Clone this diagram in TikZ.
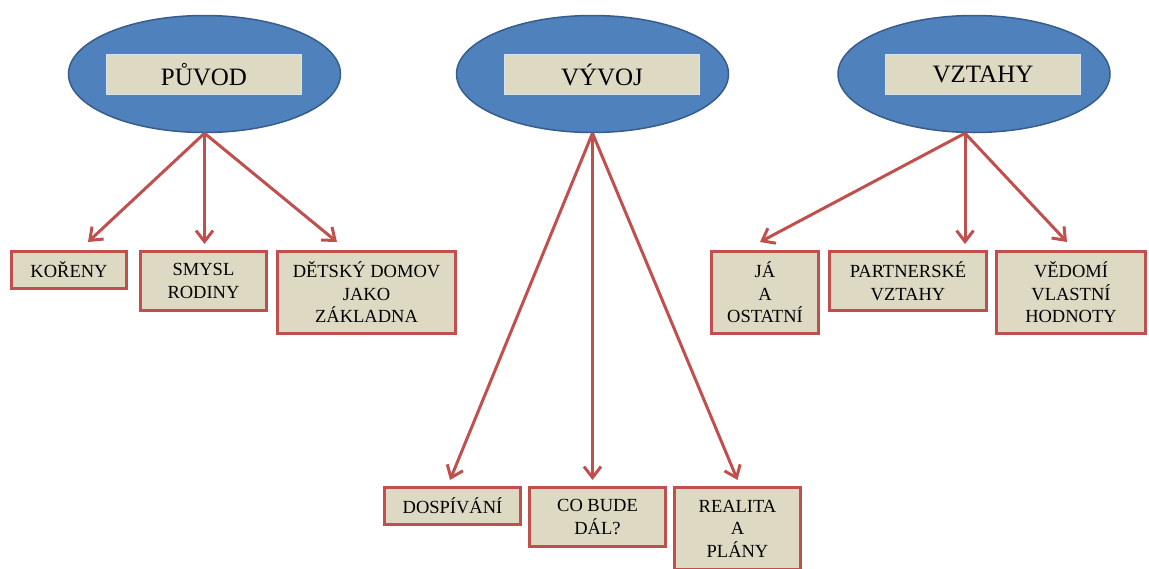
\documentclass[tikz,border=0pt]{standalone}
\definecolor{ovalblue}{RGB}{79, 129, 189}
\definecolor{ovaledge}{RGB}{56, 93, 138}
\definecolor{beige}{RGB}{221, 217, 195}
\definecolor{labeledge}{RGB}{214, 226, 236}
\definecolor{linkred}{RGB}{192, 80, 77}
\usepackage{fontspec}
\setmainfont{Liberation Serif}
\usepackage{tikz}
\usetikzlibrary{shapes, arrows.meta, positioning}

\begin{document}
\begin{tikzpicture}[x=1pt, y=-1pt,
    topic/.style={ellipse, draw=ovaledge, line width=1.5pt, fill=ovalblue, minimum width=272pt, minimum height=117pt, inner sep=0pt},
    topiclabel/.style={draw=labeledge, line width=1pt, fill=beige, minimum width=195pt, minimum height=40pt, inner sep=0pt, font=\fontsize{25}{29}\selectfont},
    item/.style={draw=linkred, line width=3pt, fill=beige, align=center, inner sep=2pt, font=\fontsize{18.5}{22.5}\selectfont},
    link/.style={-{Straight Barb[length=11pt, width=17pt, line width=3pt]}, line width=3pt, linkred}]
  \useasboundingbox (0,0) rectangle (1149,568);

  % Puvod
  \node[topic] (puvod) at (204.5, 74) {};
  \node[topiclabel] (puvodlabel) at (204, 74.5) {PŮVOD};

  % Vyvoj
  \node[topic] (vyvoj) at (592.5, 74) {};
  \node[topiclabel] (vyvojlabel) at (602, 74.5) {VÝVOJ};

  % Vztahy
  \node[topic] (vztahy) at (974, 74) {};
  \node[topiclabel] (vztahylabel) at (983, 74.5) {VZTAHY};

  % Puvod items
  \node[item, minimum width=115pt, minimum height=37pt] (koreny) at (69, 270) {KOŘENY};
  \node[item, minimum width=126pt, minimum height=59pt] (smysl) at (203.5, 281) {SMYSL\\RODINY};
  \node[item, minimum width=178pt, minimum height=82pt] (domov) at (366.5, 292.5) {DĚTSKÝ DOMOV\\JAKO\\ZÁKLADNA};

  % Vyvoj items
  \node[item, minimum width=136pt, minimum height=37pt] (dospivani) at (452.5, 506) {DOSPÍVÁNÍ};
  \node[item, minimum width=136pt, minimum height=59pt] (cobude) at (597.5, 517) {CO BUDE\\DÁL?};
  \node[item, minimum width=126pt, minimum height=82pt] (realita) at (737.5, 528.5) {REALITA\\A\\PLÁNY};

  % Vztahy items
  \node[item, minimum width=107pt, minimum height=82pt] (ostatni) at (765, 292.5) {JÁ\\A\\OSTATNÍ};
  \node[item, minimum width=157pt, minimum height=59pt] (partner) at (908, 281) {PARTNERSKÉ\\VZTAHY};
  \node[item, minimum width=149pt, minimum height=82pt] (hodnoty) at (1071, 292.5) {VĚDOMÍ\\VLASTNÍ\\HODNOTY};

  \draw[link] (puvod.south) -- ([xshift=19pt, yshift=8pt]koreny.north);
  \draw[link] (puvod.south) -- ([xshift=1pt, yshift=6pt]smysl.north);
  \draw[link] (puvod.south) -- ([xshift=-29.5pt, yshift=8pt]domov.north);

  \draw[link] (vyvoj.south) -- ([xshift=-2.5pt, yshift=6pt]dospivani.north);
  \draw[link] (vyvoj.south) -- ([xshift=-5pt, yshift=6pt]cobude.north);
  \draw[link] (vyvoj.south) -- ([xshift=0pt, yshift=6pt]realita.north);

  \draw[link] ([xshift=-9pt]vztahy.south) -- ([xshift=-5pt, yshift=8pt]ostatni.north);
  \draw[link] ([xshift=-9pt]vztahy.south) -- ([xshift=57pt, yshift=6pt]partner.north);
  \draw[link] ([xshift=-9pt]vztahy.south) -- ([xshift=-4pt, yshift=8pt]hodnoty.north);
\end{tikzpicture}
\end{document}
